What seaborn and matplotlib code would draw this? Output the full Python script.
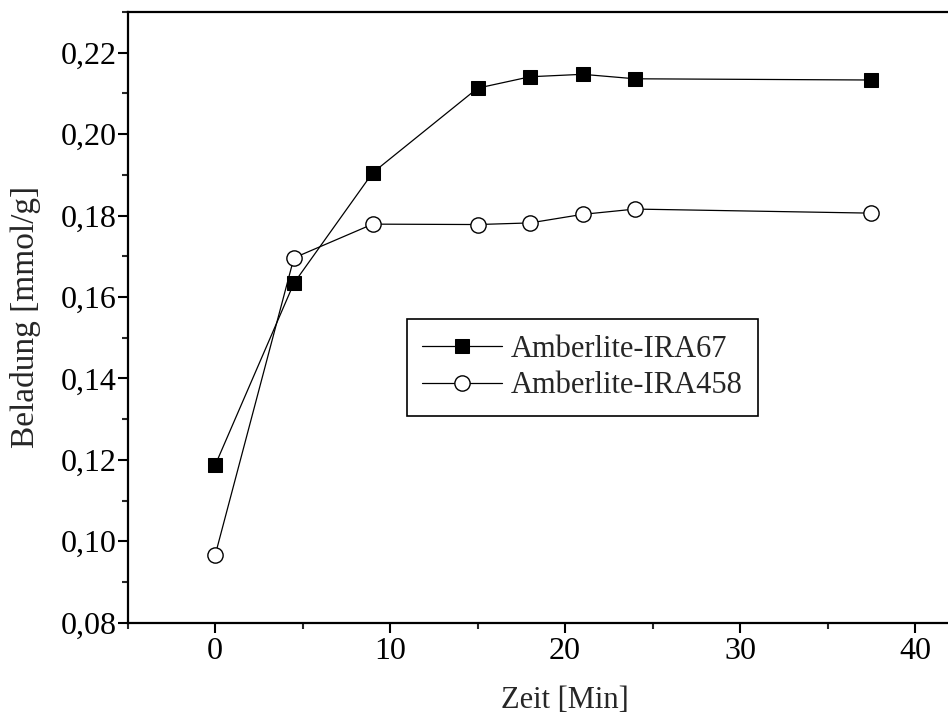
import matplotlib
matplotlib.use('Agg')
import matplotlib.pyplot as plt
import seaborn as sns
import pandas as pd
from matplotlib.ticker import MultipleLocator, FuncFormatter

# Values
zeit = [0, 4.5, 9, 15, 18, 21, 24, 37.5]
ira67 = [0.1187, 0.1634, 0.1905, 0.2113, 0.2141, 0.2147, 0.2136, 0.2133]
ira458 = [0.0966, 0.1696, 0.1779, 0.1778, 0.1782, 0.1803, 0.1816, 0.1806]
series_names = ['Amberlite-IRA67', 'Amberlite-IRA458']

df = pd.DataFrame({'Zeit': zeit, series_names[0]: ira67, series_names[1]: ira458})

sns.set_style('ticks')
plt.rcParams['font.family'] = ['Liberation Serif', 'DejaVu Serif']

fig = plt.figure(figsize=(9.48, 7.24), dpi=100)
ax = fig.add_axes([0.1347, 0.1399, 0.9228, 0.8435])

sns.lineplot(data=df, x='Zeit', y=series_names[0], ax=ax, color='black', lw=0.9,
             marker='s', markersize=10, markerfacecolor='black', markeredgecolor='black',
             label=series_names[0])
sns.lineplot(data=df, x='Zeit', y=series_names[1], ax=ax, color='black', lw=0.9,
             marker='o', markersize=11, markerfacecolor='white', markeredgecolor='black',
             markeredgewidth=1.0, label=series_names[1])

ax.set_xlim(-5, 45)
ax.set_ylim(0.08, 0.23)
ax.xaxis.set_major_locator(MultipleLocator(10))
ax.xaxis.set_minor_locator(MultipleLocator(5))
ax.yaxis.set_major_locator(MultipleLocator(0.02))
ax.yaxis.set_minor_locator(MultipleLocator(0.01))
ax.yaxis.set_major_formatter(FuncFormatter(lambda v, p: f'{v:.2f}'.replace('.', ',')))

for s in ax.spines.values():
    s.set_linewidth(1.6)
    s.set_color('black')
ax.tick_params(which='major', direction='out', length=7, width=1.5, labelsize=23, colors='black')
ax.tick_params(which='minor', direction='out', length=4.5, width=1.5)
ax.tick_params(axis='y', which='major', pad=1)
ax.tick_params(top=False, right=False)

ax.set_xlabel('Zeit [Min]', fontsize=22, labelpad=14)
ax.set_ylabel('Beladung [mmol/g]', fontsize=24, labelpad=14)

leg = ax.legend(loc='center', bbox_to_anchor=(0.52, 0.418), fontsize=22, frameon=True,
                fancybox=False, edgecolor='black', framealpha=1, handlelength=2.6,
                borderpad=0.5, labelspacing=0.25, handletextpad=0.3)
leg.get_frame().set_linewidth(1.2)

fig.savefig('out.png', dpi=100)
